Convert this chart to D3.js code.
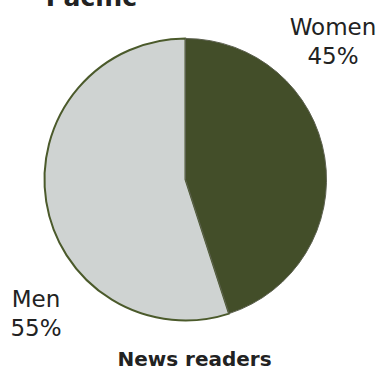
<!DOCTYPE html>
<html>
<head>
<meta charset="utf-8">
<script src="https://cdn.jsdelivr.net/npm/d3@7/dist/d3.min.js"></script>
<style>
  html, body { margin: 0; padding: 0; background: #fff; }
  svg { display: block; }
  text { font-family: "DejaVu Sans", Verdana, sans-serif; fill: #222; }
</style>
</head>
<body>
<svg id="chart" width="381" height="372"></svg>
<script>
// Readership split by gender
const categories = ["Women", "Men"];
const shares = [45, 55];
const title = "Pacific";
const caption = "News readers";

const fills = { Women: "#434e29", Men: "#cfd3d2" };
const strokes = { Women: "#5d6150", Men: "#4b5a2b" };

const W = 381, H = 372;
const cx = 185.5, cy = 179.5, radius = 141;

const svg = d3.select("#chart");

const pie = d3.pie().sort(null).value(d => d.value);
const arcs = pie(categories.map((c, i) => ({ name: c, value: shares[i] })));
const arc = d3.arc().innerRadius(0).outerRadius(radius);

const g = svg.append("g").attr("transform", `translate(${cx},${cy})`);

// Draw the light slice first so the dark slice edge sits on top
const order = [1, 0];
g.selectAll("path")
  .data(order.map(i => arcs[i]))
  .join("path")
  .attr("d", arc)
  .attr("fill", d => fills[d.data.name])
  .attr("stroke", d => strokes[d.data.name])
  .attr("stroke-width", d => d.data.name === "Men" ? 2 : 1)
  .attr("stroke-linejoin", "round");

// Slice labels: name on the first line, share on the second
const labelPos = {
  Women: { x: 333, y: 35 },
  Men: { x: 36, y: 307 }
};
arcs.forEach(a => {
  const p = labelPos[a.data.name];
  const t = svg.append("text")
    .attr("x", p.x)
    .attr("y", p.y)
    .attr("text-anchor", "middle")
    .style("font-size", "23px");
  t.append("tspan").attr("x", p.x).text(a.data.name);
  t.append("tspan").attr("x", p.x).attr("dy", 29).text(a.data.value + "%");
});

svg.append("text")
  .attr("x", 91.5)
  .attr("y", 6)
  .attr("text-anchor", "middle")
  .style("font-size", "25px")
  .style("font-weight", "bold")
  .text(title);

svg.append("text")
  .attr("x", 194.5)
  .attr("y", 366)
  .attr("text-anchor", "middle")
  .style("font-size", "20px")
  .style("font-weight", "bold")
  .text(caption);
</script>
</body>
</html>
